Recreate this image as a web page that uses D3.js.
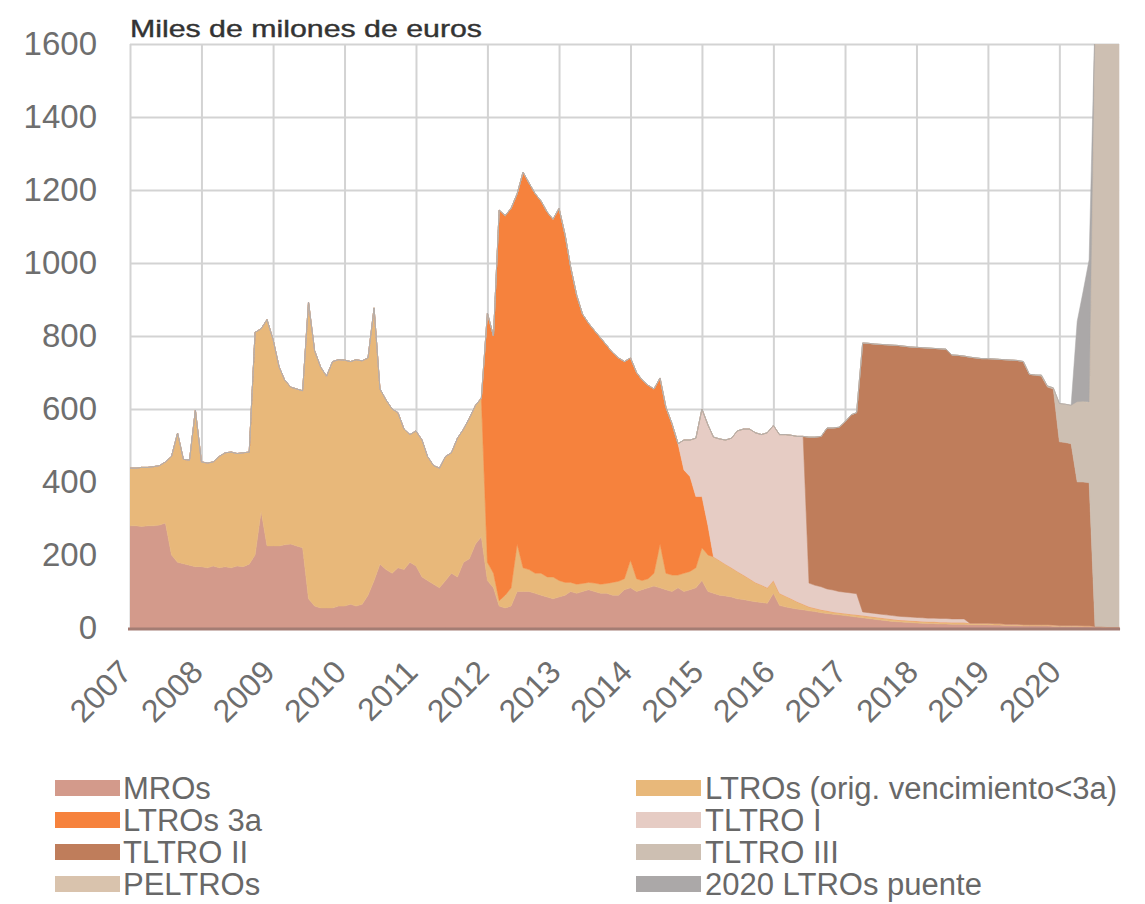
<!DOCTYPE html>
<html><head><meta charset="utf-8">
<script src="https://cdn.jsdelivr.net/npm/d3@7"></script>
<style>
body{margin:0;background:#fff}
svg{display:block}
text{font-family:"Liberation Sans",Arial,sans-serif}
</style>
</head><body>
<svg id="c" width="1145" height="904"></svg>
<script>
// ---------- DATA (monthly, Jan 2007 .. Nov 2020), miles de millones de euros ----------
const firstMonth = new Date(2007, 0, 1);
const afterLastMonth = new Date(2020, 11, 1);
const yearTicks = [2007,2008,2009,2010,2011,2012,2013,2014,2015,2016,2017,2018,2019,2020];
const yTicks = [0,200,400,600,800,1000,1200,1400,1600];
const title = "Miles de milones de euros";

const mros = [
280,280,278,280,280,282,288,200,180,176,172,168,
168,165,170,165,168,165,170,168,175,200,320,225,
225,225,228,230,225,220,80,60,55,55,55,60,
60,65,60,65,90,130,175,160,150,165,160,180,
170,140,130,120,110,130,150,140,180,190,230,250,
130,110,60,55,60,100,100,100,95,90,85,80,
85,90,100,95,100,105,100,95,95,90,90,105,
110,100,105,110,115,110,105,100,110,100,105,110,
130,100,95,90,88,85,80,78,75,72,70,68,
95,62,58,55,52,50,47,45,42,40,38,36,
34,32,30,28,26,24,22,20,18,17,16,15,
14,13,12,12,11,11,10,10,10,9,9,9,
9,8,8,7,7,7,6,6,6,6,6,5,
5,5,5,5,4,4,3,3,2,2,2];

const ltroShort = [
158,158,162,160,162,163,167,270,354,286,288,429,
287,287,285,305,312,317,308,312,307,610,500,620,
565,490,452,430,430,430,813,700,660,635,675,675,
674,665,675,667,650,747,480,465,450,425,385,350,
370,375,340,325,328,340,330,380,365,385,380,380,
50,40,15,35,50,130,65,60,55,60,55,60,
45,35,25,25,22,20,23,25,27,35,38,30,
76,35,25,25,35,120,45,45,35,50,50,55,
90,100,100,95,87,80,75,67,60,53,48,42,
35,33,30,25,20,15,11,9,8,7,6,6,
6,6,6,6,6,6,6,6,6,5,5,5,
5,5,5,5,5,5,5,5,5,4,4,4,
4,4,4,3,3,3,3,3,3,3,3,3,
2,2,2,2,2,2,1,1,1,1,1];

const ltro3y = [
0,0,0,0,0,0,0,0,0,0,0,0,
0,0,0,0,0,0,0,0,0,0,0,0,
0,0,0,0,0,0,0,0,0,0,0,0,
0,0,0,0,0,0,0,0,0,0,0,0,
0,0,0,0,0,0,0,0,0,0,0,0,
683,650,1070,1040,1040,960,1084,1059,1040,1020,1000,980,
1020,952,865,792,738,710,692,675,653,630,612,595,
554,565,550,530,505,455,455,415,360,283,260,195,
140,80,0,0,0,0,0,0,0,0,0,0,
0,0,0,0,0,0,0,0,0,0,0,0,
0,0,0,0,0,0,0,0,0,0,0,0,
0,0,0,0,0,0,0,0,0,0,0,0,
0,0,0,0,0,0,0,0,0,0,0,0,
0,0,0,0,0,0,0,0,0,0,0];

const tltro1 = [
0,0,0,0,0,0,0,0,0,0,0,0,
0,0,0,0,0,0,0,0,0,0,0,0,
0,0,0,0,0,0,0,0,0,0,0,0,
0,0,0,0,0,0,0,0,0,0,0,0,
0,0,0,0,0,0,0,0,0,0,0,0,
0,0,0,0,0,0,0,0,0,0,0,0,
0,0,0,0,0,0,0,0,0,0,0,0,
0,0,0,0,0,0,0,0,0,82,100,160,
240,276,328,333,340,355,385,400,410,410,412,425,
425,435,442,448,453,460,65,63,63,60,60,58,
58,58,58,10,10,10,10,10,10,10,10,10,
10,10,10,10,10,10,10,10,10,0,0,0,
0,0,0,0,0,0,0,0,0,0,0,0,
0,0,0,0,0,0,0,0,0,0,0];

const tltro2 = [
0,0,0,0,0,0,0,0,0,0,0,0,
0,0,0,0,0,0,0,0,0,0,0,0,
0,0,0,0,0,0,0,0,0,0,0,0,
0,0,0,0,0,0,0,0,0,0,0,0,
0,0,0,0,0,0,0,0,0,0,0,0,
0,0,0,0,0,0,0,0,0,0,0,0,
0,0,0,0,0,0,0,0,0,0,0,0,
0,0,0,0,0,0,0,0,0,0,0,0,
0,0,0,0,0,0,0,0,0,0,0,0,
0,0,0,0,0,0,400,406,412,441,444,450,
467,488,496,737,738,738,739,740,741,742,741,740,
740,740,740,739,739,738,723,722,720,729,727,725,
725,725,724,725,724,723,721,686,684,681,651,647,
503,501,498,393,394,392,0,0,0,0,0];

const tltro3 = [
0,0,0,0,0,0,0,0,0,0,0,0,
0,0,0,0,0,0,0,0,0,0,0,0,
0,0,0,0,0,0,0,0,0,0,0,0,
0,0,0,0,0,0,0,0,0,0,0,0,
0,0,0,0,0,0,0,0,0,0,0,0,
0,0,0,0,0,0,0,0,0,0,0,0,
0,0,0,0,0,0,0,0,0,0,0,0,
0,0,0,0,0,0,0,0,0,0,0,0,
0,0,0,0,0,0,0,0,0,0,0,0,
0,0,0,0,0,0,0,0,0,0,0,0,
0,0,0,0,0,0,0,0,0,0,0,0,
0,0,0,0,0,0,0,0,0,0,0,0,
0,0,0,0,0,0,0,0,0,3,3,3,
105,105,105,220,220,220,1650,1650,1650,1650,1650];

const peltro = [
0,0,0,0,0,0,0,0,0,0,0,0,
0,0,0,0,0,0,0,0,0,0,0,0,
0,0,0,0,0,0,0,0,0,0,0,0,
0,0,0,0,0,0,0,0,0,0,0,0,
0,0,0,0,0,0,0,0,0,0,0,0,
0,0,0,0,0,0,0,0,0,0,0,0,
0,0,0,0,0,0,0,0,0,0,0,0,
0,0,0,0,0,0,0,0,0,0,0,0,
0,0,0,0,0,0,0,0,0,0,0,0,
0,0,0,0,0,0,0,0,0,0,0,0,
0,0,0,0,0,0,0,0,0,0,0,0,
0,0,0,0,0,0,0,0,0,0,0,0,
0,0,0,0,0,0,0,0,0,0,0,0,
0,0,0,0,1,1,16,16,16,27,27];

const bridge = [
0,0,0,0,0,0,0,0,0,0,0,0,
0,0,0,0,0,0,0,0,0,0,0,0,
0,0,0,0,0,0,0,0,0,0,0,0,
0,0,0,0,0,0,0,0,0,0,0,0,
0,0,0,0,0,0,0,0,0,0,0,0,
0,0,0,0,0,0,0,0,0,0,0,0,
0,0,0,0,0,0,0,0,0,0,0,0,
0,0,0,0,0,0,0,0,0,0,0,0,
0,0,0,0,0,0,0,0,0,0,0,0,
0,0,0,0,0,0,0,0,0,0,0,0,
0,0,0,0,0,0,0,0,0,0,0,0,
0,0,0,0,0,0,0,0,0,0,0,0,
0,0,0,0,0,0,0,0,0,0,0,0,
0,0,0,220,300,390,0,0,0,0,0];

const seriesNames = ["MROs","LTROs (orig. vencimiento<3a)","LTROs 3a","TLTRO I","TLTRO II","TLTRO III","PELTROs","2020 LTROs puente"];
const seriesValues = [mros, ltroShort, ltro3y, tltro1, tltro2, tltro3, peltro, bridge];
const seriesColors = ["#d39a8b","#e8b87a","#f6823d","#e6ccc4","#bf7d5b","#cdbfb2","#d9c3ad","#aba8a8"];
const legendLeft = ["MROs","LTROs 3a","TLTRO II","PELTROs"];
const legendRight = ["LTROs (orig. vencimiento<3a)","TLTRO I","TLTRO III","2020 LTROs puente"];

// ---------- CHART ----------
const svg = d3.select("#c");
const pL = 130, pT = 44, pB = 628;
const months = d3.timeMonth.range(firstMonth, afterLastMonth);
const x = d3.scaleTime().domain([new Date(2007,0,1), new Date(2021,0,1)]).range([pL, pL + 14*71.5]);
const y = d3.scaleLinear().domain([0,1600]).range([pB, pT]);
const xEnd = x(months[months.length-1]);

const table = months.map((d,i) => {
  const row = {date: d};
  seriesNames.forEach((k,j) => row[k] = seriesValues[j][i]);
  return row;
});
const stacked = d3.stack().keys(seriesNames)(table);
const color = d3.scaleOrdinal().domain(seriesNames).range(seriesColors);

const gy = svg.append("g").attr("transform", `translate(${pL},0)`)
  .call(d3.axisLeft(y).tickValues(yTicks).tickSize(-(xEnd-pL)).tickPadding(33).tickFormat(d3.format("d")));
gy.select(".domain").remove();
gy.selectAll(".tick line").attr("stroke","#d3d3d3").attr("stroke-width",2);
gy.selectAll(".tick text").attr("font-size",33).attr("fill","#6e6e6e").attr("font-family","Liberation Sans, Arial, sans-serif");

const gx = svg.append("g").attr("transform", `translate(0,${pB})`)
  .call(d3.axisBottom(x).tickValues(yearTicks.map(yv => new Date(yv,0,1))).tickSize(-(pB-pT)).tickFormat(d3.timeFormat("%Y")));
gx.select(".domain").remove();
gx.selectAll(".tick line").attr("stroke","#d3d3d3").attr("stroke-width",2);
gx.selectAll(".tick text")
  .attr("y",0).attr("dy",0).attr("x",0)
  .attr("transform","translate(3,46) rotate(-45)")
  .attr("text-anchor","end")
  .attr("font-size",32).attr("fill","#6e6e6e").attr("font-family","Liberation Sans, Arial, sans-serif");

svg.append("clipPath").attr("id","clip").append("rect")
  .attr("x",pL).attr("y",pT).attr("width",xEnd-pL+1).attr("height",pB-pT);
const area = d3.area()
  .x(d => x(d.data.date))
  .y0(d => y(d[0]))
  .y1(d => y(d[1]));
svg.append("g").attr("clip-path","url(#clip)")
  .selectAll("path").data(stacked).join("path")
  .attr("fill", d => color(d.key))
  .attr("stroke", d => color(d.key)).attr("stroke-width",0.5)
  .attr("d", area);

svg.append("line").attr("x1",pL-2).attr("x2",xEnd+1).attr("y1",y(0)+1).attr("y2",y(0)+1)
  .attr("stroke","#a47d74").attr("stroke-width",3);

svg.append("text").attr("x",pL).attr("y",37).text(title)
  .attr("font-size",24).attr("fill","#333").attr("stroke","#333").attr("stroke-width",0.4)
  .attr("textLength",352).attr("lengthAdjust","spacingAndGlyphs");

const rowY = [788, 820, 852, 884];
function legendCol(names, sx, tx) {
  const g = svg.append("g");
  names.forEach((n,i) => {
    g.append("rect").attr("x",sx).attr("y",rowY[i]-8).attr("width",65).attr("height",16).attr("fill",color(n));
    g.append("text").attr("x",tx).attr("y",rowY[i]).attr("dy","0.36em").text(n)
      .attr("font-size",31).attr("fill","#686868");
  });
}
legendCol(legendLeft, 55, 123);
legendCol(legendRight, 636, 705);
</script>
</body></html>
